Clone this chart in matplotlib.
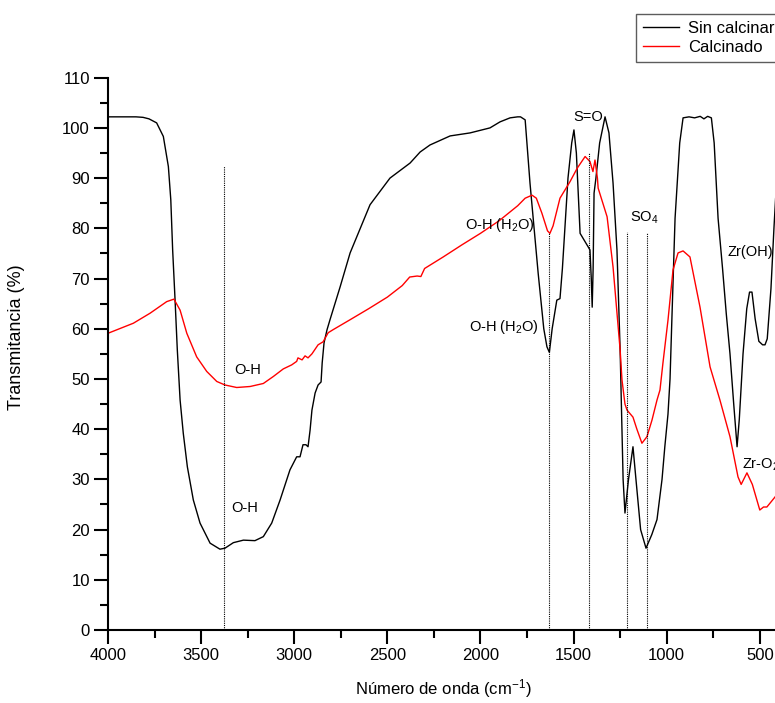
import matplotlib
matplotlib.use("Agg")
import matplotlib.pyplot as plt
from matplotlib.ticker import MultipleLocator

plt.rcParams['font.family'] = ['Liberation Sans', 'DejaVu Sans']
plt.rcParams['mathtext.fontset'] = 'custom'
plt.rcParams['mathtext.rm'] = 'Liberation Sans'
plt.rcParams['mathtext.it'] = 'Liberation Sans:italic'

# --- Datos: espectro sin calcinar ---
wn_sin = [4000, 3850, 3812, 3780, 3739, 3703, 3676, 3663, 3653, 3640, 3628, 3613,
          3596, 3574, 3542, 3506, 3452, 3399, 3372, 3327, 3273, 3211, 3166, 3121,
          3076, 3023, 2987, 2969, 2953, 2937, 2926, 2915, 2905, 2888, 2872, 2856,
          2850, 2840, 2824, 2808, 2754, 2700, 2593, 2486, 2378, 2324, 2271, 2163,
          2056, 1949, 1895, 1841, 1800, 1785, 1760, 1734, 1690, 1660, 1643, 1630,
          1615, 1590, 1573, 1560, 1530, 1510, 1498, 1485, 1465, 1428, 1412, 1405,
          1400, 1395, 1390, 1380, 1360, 1331, 1310, 1288, 1267, 1250, 1234, 1224,
          1205, 1181, 1165, 1140, 1111, 1080, 1052, 1025, 1010, 993, 982, 972, 955,
          930, 912, 880, 850, 820, 800, 780, 760, 745, 724, 700, 680, 660, 640, 622,
          610, 590, 570, 555, 542, 525, 505, 485, 472, 460, 440, 424, 415, 400]
t_sin = [102.2, 102.2, 102.1, 101.8, 101.0, 98.3, 92.3, 85.7, 75.7, 65.7, 55.8, 45.8,
         39.2, 32.5, 25.9, 21.3, 17.3, 16.1, 16.3, 17.4, 17.9, 17.8, 18.6, 21.3,
         25.9, 31.9, 34.5, 34.5, 36.9, 36.9, 36.5, 39.8, 43.8, 47.2, 48.8, 49.4,
         53.2, 57.2, 59.8, 61.8, 68.3, 75.1, 84.7, 90, 93, 95.2, 96.6, 98.4,
         99, 100, 101.2, 102, 102.2, 102.2, 101.6, 89, 71, 60, 56.4, 55.3,
         60, 65.7, 66, 72, 90, 97, 99.6, 95, 79, 76.7, 75.7, 70,
         64.3, 72, 87, 90, 97, 102.2, 99, 89, 75.7, 55.8, 30, 23.3,
         30, 36.5, 30, 20, 16.3, 19, 22, 30, 36.5, 43, 50, 62, 82,
         97, 102, 102.2, 102, 102.3, 101.8, 102.3, 102, 97, 82, 72, 63, 55, 45, 36.5,
         42, 55, 64, 67.3, 67.3, 62, 57.5, 56.8, 56.8, 58, 68, 80, 86, 90]

# --- Datos: espectro calcinado ---
wn_cal = [4000, 3864, 3774, 3685, 3646, 3613, 3577, 3524, 3470, 3416, 3372, 3309,
          3237, 3166, 3112, 3059, 3014, 2987, 2980, 2958, 2942, 2926, 2905,
          2872, 2845, 2818, 2792, 2700, 2600, 2500, 2420, 2380, 2340, 2320, 2300,
          2200, 2100, 2000, 1900, 1800, 1760, 1723, 1700, 1670, 1640, 1627, 1610,
          1573, 1519, 1480, 1438, 1412, 1396, 1385, 1372, 1368, 1320, 1288, 1250,
          1240, 1224, 1213, 1181, 1160, 1133, 1106, 1079, 1052, 1036, 1020, 993,
          966, 939, 912, 875, 821, 767, 714, 660, 617, 600, 569, 540, 500, 480,
          462, 440, 418, 400]
t_cal = [59.1, 61.1, 63.1, 65.4, 65.9, 63.7, 59.1, 54.4, 51.5, 49.5, 48.8, 48.3,
         48.5, 49.1, 50.5, 52, 52.8, 53.5, 54.2, 53.8, 54.6, 54.2, 55,
         56.8, 57.4, 59.2, 59.8, 61.8, 64, 66.3, 68.6, 70.3, 70.5, 70.4, 72,
         74.3, 76.7, 79, 81.5, 84.5, 86, 86.6, 86, 83, 79.5, 79, 80.5,
         86, 89.3, 92, 94.3, 93.3, 91.3, 93.6, 90, 88, 82.3, 72.3, 55.8,
         49.8, 45, 43.8, 42.4, 40, 37.2, 38.5, 41.8, 45.8, 47.8, 53.2, 61.7,
         71.7, 75.1, 75.5, 74.3, 64.3, 52.4, 45.8, 38.5, 30.5, 29, 31.3, 29, 23.9, 24.5,
         24.5, 25.5, 26.5, 27.5]

# --- Lineas de referencia (posicion, altura) ---
ref_x = [3375, 1630, 1415, 1215, 1105]
ref_top = [92.5, 79, 95, 79.3, 79]

fig = plt.figure(figsize=(7.75, 7.03), dpi=100)
ax = fig.add_axes([0.1394, 0.1038, 0.865, 0.7857])

ax.plot(wn_sin, t_sin, color='black', lw=1.0, label='Sin calcinar')
ax.plot(wn_cal, t_cal, color='red', lw=1.0, label='Calcinado')

for xv, top in zip(ref_x, ref_top):
    ax.plot([xv, xv], [0, top], color='black', lw=0.8, ls=(0, (1, 1)))

ax.set_xlim(4000, 400)
ax.set_ylim(0, 110)
ax.xaxis.set_major_locator(MultipleLocator(500))
ax.xaxis.set_minor_locator(MultipleLocator(250))
ax.yaxis.set_major_locator(MultipleLocator(10))
ax.yaxis.set_minor_locator(MultipleLocator(5))

for s in ['top', 'right']:
    ax.spines[s].set_visible(False)
for s in ['left', 'bottom']:
    ax.spines[s].set_linewidth(1.5)
ax.tick_params(which='major', direction='out', length=10, width=1.5, labelsize=12, pad=3)
ax.tick_params(which='minor', direction='out', length=6, width=1.5)

ax.set_xlabel('Número de onda (cm$^{-1}$)', fontsize=12, labelpad=10)
ax.set_ylabel('Transmitancia (%)', fontsize=13)
ax.yaxis.set_label_coords(-0.124, 0.53)

fs = 10.5
ax.text(3248, 51.8, 'O-H', fontsize=fs, ha='center', va='center')
ax.text(3267, 24.3, 'O-H', fontsize=fs, ha='center', va='center')
ax.text(1895, 80.7, r'O-H (H$_\mathregular{2}$O)', fontsize=fs, ha='center', va='center')
ax.text(1873, 60.4, r'O-H (H$_\mathregular{2}$O)', fontsize=fs, ha='center', va='center')
ax.text(1422, 102.2, 'S=O', fontsize=fs, ha='center', va='center')
ax.text(1197, 82, r'SO$_\mathregular{4}$', fontsize=fs, ha='left', va='center')
ax.text(676, 75.3, 'Zr(OH)', fontsize=fs, ha='left', va='center')
ax.text(596, 32.9, r'Zr-O$_\mathregular{2}$', fontsize=fs, ha='left', va='center')

leg = fig.legend(loc='upper left', bbox_to_anchor=(636 / 775, 1 - 14 / 703),
                 fontsize=12, frameon=True, fancybox=False, handlelength=2.2,
                 borderpad=0.4, labelspacing=0.25, handletextpad=0.5,
                 borderaxespad=0)
leg.get_frame().set_edgecolor('#333333')
leg.get_frame().set_linewidth(1.0)

fig.savefig('out.png', dpi=100)
